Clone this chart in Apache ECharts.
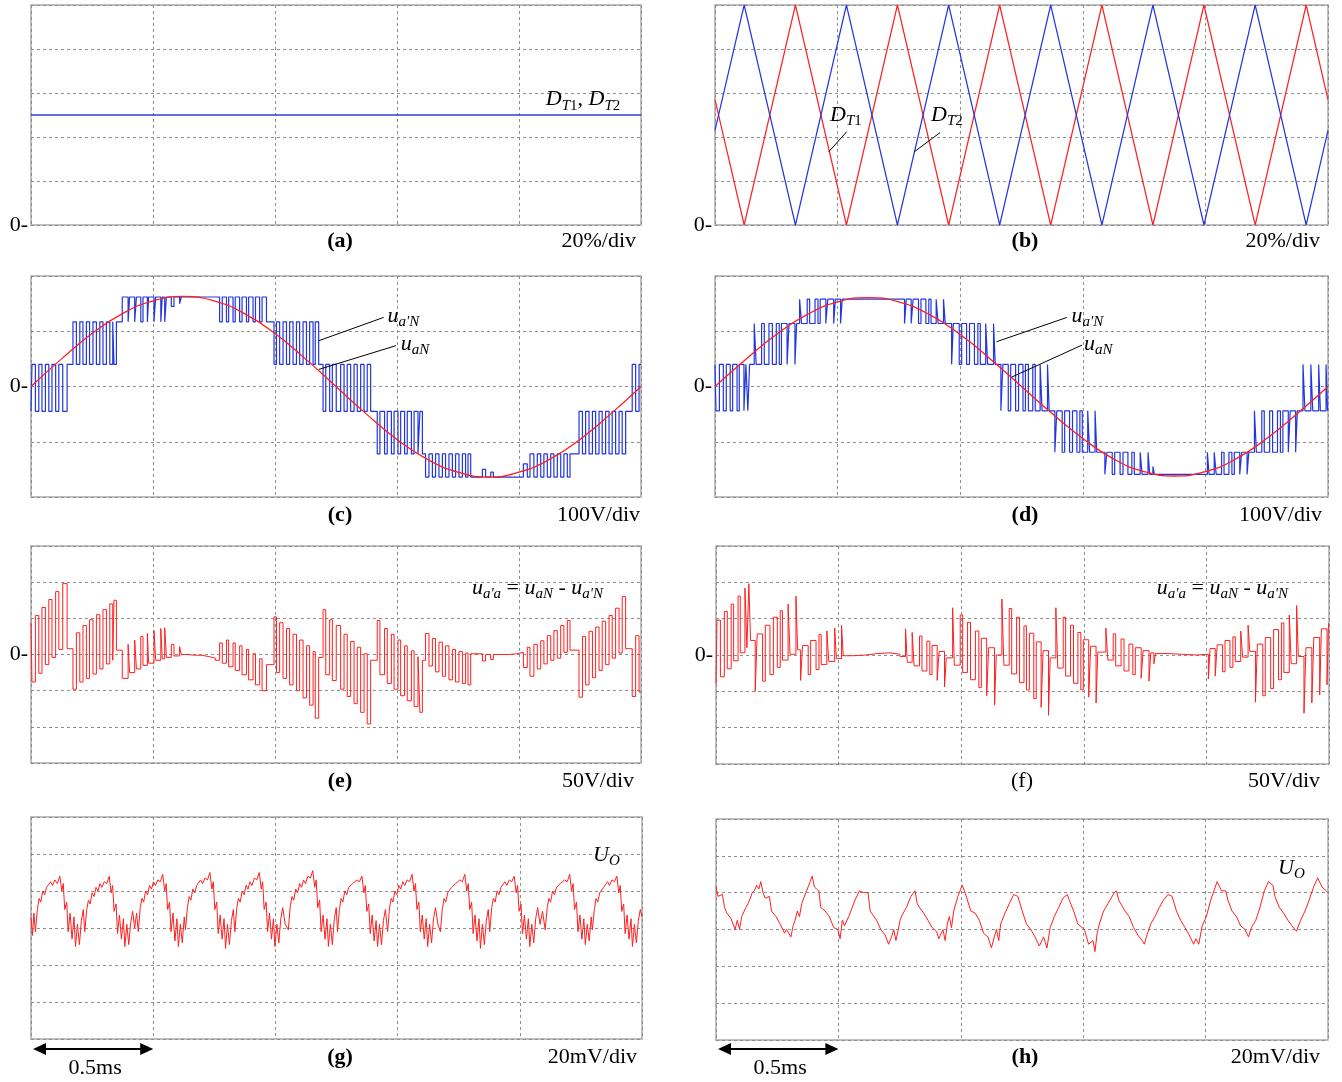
<!DOCTYPE html>
<html><head><meta charset="utf-8">
<script src="https://cdn.jsdelivr.net/npm/echarts@6/dist/echarts.min.js"></script>
<style>html,body{margin:0;padding:0;background:#fff}#c{width:1342px;height:1082px}</style>
</head><body><div id="c"></div>
<script>
// ---------- DATA (time in microseconds, 0.5 ms / div) ----------
// (a) duty ratios D_T1 = D_T2 (%)
const aTime = [0, 2500];
const aDuty = [50, 50];
// (b) triangular duty ratios (%)
const bTime = [0,119,328,536,744,953,1161,1369,1578,1786,1994,2203,2411,2500];
const bDT2  = [43,100,0,100,0,100,0,100,0,100,0,100,0,43];
const bDT1  = [57,0,100,0,100,0,100,0,100,0,100,0,100,57];
// (c) u_a'N (V) transitions [t, level]
const cUaPN = [
[0,-45],[4,40],[18,-45],[32,40],[45,-45],[59,40],[73,-45],[86,40],[101,-45],[114,40],[130,-45],[148,40],
[172,117],[186,40],[200,117],[213,40],[227,117],[240,40],[254,117],[268,40],[282,117],[295,40],[309,117],[323,40],[335,117],[340,40],[350,117],
[374,162],[398,117],[404,162],[425,117],[432,162],[450,117],[459,162],[477,117],[482,162],[504,117],[511,162],[532,117],[538,162],[548,117],[555,162],
[575,145],[586,162],[609,150],[616,162],
[773,117],[784,162],[801,117],[810,162],[828,117],[837,162],[855,117],[865,162],[883,117],[892,162],[910,117],[920,162],[937,117],[947,162],[965,117],
[996,40],[1006,117],[1019,40],[1033,117],[1047,40],[1060,117],[1074,40],[1088,117],[1101,40],[1115,117],[1129,40],[1142,117],[1156,40],[1165,117],[1179,40],
[1197,-45],[1208,40],[1224,-45],[1235,40],[1251,-45],[1269,40],[1283,-45],[1296,40],[1310,-45],[1324,40],[1337,-45],[1351,40],[1365,-45],[1378,40],[1392,-45],
[1419,-122],[1430,-45],[1449,-122],[1460,-45],[1477,-122],[1488,-45],[1504,-122],[1515,-45],[1531,-122],[1542,-45],[1559,-122],[1570,-45],[1586,-122],[1594,-45],[1604,-122],
[1617,-164],[1631,-122],[1645,-164],[1658,-122],[1672,-164],[1686,-122],[1699,-164],[1713,-122],[1727,-164],[1740,-122],[1754,-164],[1768,-122],[1781,-164],[1791,-122],[1802,-164],
[1850,-150],[1863,-164],[1884,-155],[1895,-164],
[2018,-140],[2034,-164],[2045,-122],[2061,-164],[2075,-122],[2089,-164],[2102,-122],[2116,-164],[2130,-122],[2143,-164],[2157,-122],[2171,-164],[2184,-122],[2198,-164],[2209,-122],
[2246,-45],[2260,-122],[2273,-45],[2287,-122],[2301,-45],[2314,-122],[2328,-45],[2341,-122],[2355,-45],[2369,-122],[2382,-45],[2396,-122],[2410,-45],[2423,-122],[2437,-45],
[2464,40],[2478,-45],[2492,40],[2500,40]
];
const sineTime = [0,125,250,375,500,625,750,875,1000,1125,1250,1375,1500,1625,1750,1875,2000,2125,2250,2375,2500];
const cUaN = [0,50,96,132,155,163,155,132,96,50,0,-50,-96,-132,-155,-164,-155,-132,-96,-50,0];
// (d) u_a'N (V) transitions
const dUaPN = [
[0,40],[4,-44],[18,40],[34,-44],[46,40],[62,-44],[72,40],[90,-44],[99,40],[118,-44],[126,40],[134,-44],[141,40],
[160,114],[168,40],[190,114],[201,40],[220,114],[234,40],[250,114],[262,40],[271,114],[294,40],[302,114],[326,40],[333,114],
[345,158],[353,114],[376,158],[386,114],[408,158],[420,114],[429,158],[452,114],[460,158],[484,114],[491,158],[512,114],[519,158],
[773,114],[780,158],[800,114],[808,158],[830,114],[840,158],[860,114],[872,158],[881,114],[902,158],[910,114],[932,158],[939,114],
[965,40],[972,114],[996,40],[1006,114],[1026,40],[1038,114],[1058,40],[1072,114],[1082,40],[1104,114],[1112,40],[1136,114],[1143,40],
[1166,-44],[1174,40],[1196,-44],[1206,40],[1226,-44],[1238,40],[1256,-44],[1266,40],[1278,-44],[1296,40],[1306,-44],[1326,40],[1334,-44],[1356,40],[1363,-44],
[1386,-119],[1394,-44],[1416,-119],[1426,-44],[1446,-119],[1458,-44],[1476,-119],[1488,-44],[1498,-119],[1520,-44],[1528,-119],[1550,-44],[1557,-119],
[1590,-159],[1598,-119],[1620,-159],[1630,-119],[1652,-159],[1664,-119],[1684,-159],[1700,-119],[1710,-159],[1734,-119],[1742,-159],[1766,-119],[1773,-159],[1786,-145],[1792,-159],
[2008,-119],[2015,-159],[2036,-119],[2044,-159],[2066,-119],[2076,-159],[2096,-119],[2108,-159],[2118,-119],[2140,-159],[2148,-119],[2170,-159],[2177,-119],
[2200,-44],[2208,-119],[2230,-44],[2240,-119],[2262,-44],[2274,-119],[2294,-44],[2306,-119],[2316,-44],[2338,-119],[2346,-44],[2368,-119],[2375,-44],
[2398,40],[2406,-44],[2430,40],[2438,-44],[2462,40],[2469,-44],[2492,40],[2498,-44],[2500,-44]
];
const dUaN = [0,49,94,130,153,161,153,130,94,49,0,-49,-94,-131,-154,-162,-154,-131,-94,-49,0];
// (e) u_a'a (V)
const eUaPa = [
[0,45],[4,-38],[18,54],[32,-26],[45,65],[59,-14],[73,76],[86,-4],[101,87],[114,7],[130,98],[148,8],
[172,-48],[186,30],[200,-38],[213,40],[227,-33],[240,48],[254,-27],[268,55],[282,-20],[295,62],[309,-13],[323,70],[335,-8],[340,75],[350,6],
[374,-33],[398,14],[404,-25],[425,20],[432,-20],[450,25],[459,-15],[477,29],[482,-12],[504,33],[511,-8],[532,36],[538,-6],[548,37],[555,-4],
[575,14],[586,-2],[609,11],[616,0],[640,-1],[670,-1],[700,-3],[730,-5],[755,-8],
[773,16],[784,-12],[801,20],[810,-17],[828,16],[837,-22],[855,12],[865,-28],[883,7],[892,-35],[910,1],[920,-42],[937,-6],[947,-50],[965,-14],
[996,52],[1006,-25],[1019,44],[1033,-33],[1047,36],[1060,-42],[1074,28],[1088,-50],[1101,20],[1115,-60],[1129,12],[1142,-70],[1156,4],[1165,-88],[1179,-4],
[1197,62],[1208,-28],[1224,48],[1235,-36],[1251,40],[1269,-48],[1283,28],[1296,-58],[1310,18],[1324,-68],[1337,10],[1351,-80],[1365,1],[1378,-96],[1392,-8],
[1419,47],[1430,-28],[1449,36],[1460,-40],[1477,28],[1488,-48],[1504,20],[1515,-57],[1531,12],[1542,-64],[1559,5],[1570,-72],[1586,-3],[1594,-80],[1604,-8],
[1617,29],[1631,-16],[1645,22],[1658,-24],[1672,17],[1686,-30],[1699,12],[1713,-35],[1727,7],[1740,-38],[1754,4],[1768,-40],[1781,2],[1791,-42],[1802,1],
[1850,-9],[1863,0],[1884,-7],[1895,0],[1930,0],[1960,1],[1990,3],
[2018,-18],[2034,10],[2045,-30],[2061,14],[2075,-20],[2089,19],[2102,-13],[2116,26],[2130,-8],[2143,33],[2157,-5],[2171,40],[2184,3],[2198,47],[2209,6],
[2246,-59],[2260,25],[2273,-42],[2287,32],[2301,-32],[2314,38],[2328,-22],[2341,46],[2355,-14],[2369,54],[2382,-5],[2396,64],[2410,2],[2423,80],[2437,8],
[2464,-58],[2478,26],[2492,-52],[2500,-52]
];
// (f) u_a'a (V)
const fUaPa = [
[0,-39],[4,48],[18,-30],[34,60],[46,-19],[62,70],[72,-8],[90,81],[99,3],[118,92],[126,10],[134,98],[141,20],
[160,-50],[168,29],[190,-36],[201,41],[220,-27],[234,52],[250,-17],[262,61],[271,-7],[294,70],[302,1],[326,81],[333,7],
[345,-35],[353,13],[376,-27],[386,20],[408,-20],[420,28],[429,-13],[452,33],[460,-9],[484,37],[491,-5],[512,41],[519,-1],
[560,0],[610,2],[660,3],[710,1],[750,-2],
[773,36],[780,-10],[800,31],[808,-15],[830,26],[840,-22],[860,19],[872,-27],[881,13],[902,-35],[910,5],[932,-44],[939,-4],
[965,65],[972,-14],[996,55],[1006,-24],[1026,45],[1038,-34],[1058,33],[1072,-45],[1082,23],[1104,-56],[1112,10],[1136,-69],[1143,0],
[1166,77],[1174,-14],[1196,64],[1206,-26],[1226,52],[1238,-38],[1256,40],[1266,-48],[1278,30],[1296,-60],[1306,18],[1326,-72],[1334,6],[1356,-83],[1363,-4],
[1386,65],[1394,-18],[1416,52],[1426,-29],[1446,41],[1458,-39],[1476,31],[1488,-48],[1498,21],[1520,-58],[1528,12],[1550,-66],[1557,4],
[1590,37],[1598,-7],[1620,29],[1630,-15],[1652,22],[1664,-22],[1684,15],[1700,-27],[1710,10],[1734,-32],[1742,6],[1766,-36],[1773,3],[1786,-12],[1792,2],
[1840,1],[1900,0],[1960,1],
[2008,-33],[2015,9],[2036,-29],[2044,14],[2066,-23],[2076,20],[2096,-17],[2108,25],[2118,-9],[2140,33],[2148,-3],[2170,41],[2177,5],
[2200,-65],[2208,15],[2230,-56],[2240,24],[2262,-46],[2274,35],[2294,-34],[2306,44],[2316,-24],[2338,55],[2346,-12],[2368,68],[2375,-2],
[2398,-80],[2406,10],[2430,-66],[2438,24],[2462,-55],[2469,36],[2492,-41],[2498,43],[2500,44]
];
// (g) U_O (mV)
const gUo = [
[0,6],[6,-4],[12,8],[18,-2],[26,10],[33,16],[40,14],[48,20],[56,18],[64,22],[72,21],[80,25],[88,23],[98,26],[108,24],[118,28],[126,20],[132,24],[138,10],[146,14],[152,-2],[160,8],[168,-6],[176,6],[182,-10],[190,2],[198,-9],[206,4],[214,10],
[220,-2],[228,10],[235,15],[242,13],[250,19],[258,17],[266,22],[274,20],[282,24],[290,22],[300,25],[310,24],[320,28],[328,19],[334,23],[340,9],[348,13],[354,-3],[362,7],[370,-6],[378,5],[384,-10],[392,2],[400,-9],[408,3],[416,9],[424,0],[432,8],
[439,-2],[447,11],[454,16],[461,14],[469,20],[477,18],[485,23],[493,21],[501,25],[509,23],[519,26],[529,25],[539,29],[547,20],[553,24],[559,10],[567,14],[573,-2],[581,8],[589,-7],[597,5],[603,-10],[611,2],[619,-8],[627,6],
[632,-1],[640,11],[647,17],[654,15],[662,21],[670,19],[678,23],[686,22],[694,26],[702,24],[712,27],[722,26],[732,30],[740,21],[746,25],[752,10],[760,14],[766,-3],[774,7],[782,-6],[790,5],[796,-11],[804,2],[812,-9],[820,4],[828,10],
[834,-2],[842,11],[849,16],[856,14],[864,20],[872,18],[880,23],[888,21],[896,25],[904,23],[914,27],[924,26],[934,30],[942,21],[948,25],[954,10],[962,14],[968,-2],[976,8],[984,-6],[992,5],[998,-10],[1006,2],[1014,-8],[1022,5],[1030,11],[1040,2],
[1053,-1],[1061,12],[1068,17],[1075,15],[1083,21],[1091,19],[1099,24],[1107,22],[1115,26],[1123,24],[1133,28],[1143,27],[1153,31],[1161,22],[1167,26],[1173,11],[1181,15],[1187,-2],[1195,7],[1203,-6],[1211,5],[1217,-10],[1225,2],[1233,-9],[1241,5],[1249,11],
[1254,-2],[1262,10],[1269,16],[1276,14],[1284,20],[1292,18],[1300,22],[1308,21],[1316,24],[1324,23],[1334,26],[1344,25],[1354,28],[1362,19],[1368,23],[1374,9],[1382,13],[1388,-3],[1396,7],[1404,-7],[1412,4],[1418,-10],[1426,2],[1434,-9],[1442,4],[1450,10],
[1459,-2],[1467,11],[1474,16],[1481,14],[1489,20],[1497,18],[1505,23],[1513,21],[1521,25],[1529,23],[1539,26],[1549,25],[1559,29],[1567,20],[1573,24],[1579,10],[1587,14],[1593,-2],[1601,7],[1609,-6],[1617,5],[1623,-10],[1631,2],[1639,-8],[1647,5],[1655,11],[1665,2],
[1675,-2],[1683,10],[1690,16],[1697,14],[1705,19],[1713,18],[1721,22],[1729,21],[1737,24],[1745,23],[1755,26],[1765,25],[1775,29],[1783,20],[1789,24],[1795,10],[1803,14],[1809,-3],[1817,7],[1825,-7],[1833,5],[1839,-11],[1847,2],[1855,-9],[1863,4],[1871,10],
[1877,-2],[1885,11],[1892,16],[1899,14],[1907,20],[1915,18],[1923,22],[1931,21],[1939,25],[1947,23],[1957,26],[1967,25],[1977,28],[1985,19],[1991,23],[1997,9],[2005,13],[2011,-3],[2019,7],[2027,-6],[2035,5],[2041,-10],[2049,2],[2057,-8],[2065,5],[2073,11],[2083,2],[2093,9],
[2104,-1],[2112,11],[2119,16],[2126,14],[2134,20],[2142,18],[2150,22],[2158,21],[2166,24],[2174,23],[2184,26],[2194,25],[2204,29],[2212,20],[2218,24],[2224,10],[2232,14],[2238,-2],[2246,7],[2254,-6],[2262,5],[2268,-9],[2276,2],[2284,-7],[2292,6],
[2297,-1],[2305,10],[2312,16],[2319,14],[2327,19],[2335,18],[2343,22],[2351,21],[2359,25],[2367,23],[2377,26],[2387,25],[2397,28],[2405,19],[2411,23],[2417,9],[2425,13],[2431,-3],[2439,7],[2447,-6],[2455,5],[2461,-10],[2469,2],[2477,-8],[2485,4],[2493,10],[2500,6]
];
// (h) U_O (mV)
const hUo = [
[0,23],[8,18],[26,19],[35,12],[44,9],[61,6],[78,0],[87,5],[96,0],[105,7],[122,12],[131,14],[140,17],[148,20],[157,21],[166,24],[175,22],[183,26],[192,20],[201,17],[218,18],[227,10],[245,7],[262,3],[280,-2],[288,0],[306,-4],[315,2],[323,5],[332,10],[341,7],[350,14],[367,20],[385,26],[393,29],[402,23],[411,22],[420,21],[428,12],[446,10],[463,7],[481,1],[498,0],[507,-5],[516,5],[525,2],[533,3],[542,7],[551,10],[568,16],[586,21],[603,20],[621,20],[630,10],[638,9],[656,5],[673,0],[691,-3],[705,-8],[717,-4],[726,0],[735,-6],[743,-1],[752,5],[761,8],[778,12],[796,18],[813,21],[822,14],[831,12],[848,9],[866,5],[883,1],[901,-1],[910,-5],[927,0],[936,-6],[945,3],[953,7],[962,1],[971,10],[988,18],[1006,24],[1015,21],[1023,20],[1041,10],[1058,9],[1076,5],[1093,-2],[1111,-4],[1125,-10],[1137,-4],[1146,0],[1155,-6],[1163,3],[1181,9],[1198,14],[1216,19],[1233,18],[1251,10],[1268,3],[1286,0],[1303,-4],[1321,-9],[1338,-4],[1352,-10],[1365,1],[1382,7],[1400,12],[1417,17],[1435,19],[1443,16],[1461,10],[1478,3],[1505,0],[1522,-8],[1540,-6],[1548,-12],[1557,-2],[1566,3],[1583,10],[1601,14],[1627,20],[1636,21],[1645,16],[1653,17],[1671,10],[1688,7],[1706,1],[1723,-3],[1741,-6],[1750,-8],[1758,-4],[1776,3],[1793,7],[1811,12],[1828,16],[1846,19],[1863,18],[1881,10],[1898,5],[1916,1],[1933,-3],[1951,-8],[1960,-5],[1972,-8],[1986,2],[2003,7],[2021,16],[2047,26],[2065,21],[2082,21],[2091,16],[2108,10],[2126,7],[2143,2],[2161,0],[2175,-4],[2187,1],[2205,5],[2222,12],[2240,21],[2257,26],[2275,24],[2283,18],[2301,12],[2318,9],[2336,5],[2353,2],[2371,-1],[2388,5],[2406,10],[2423,16],[2441,23],[2458,28],[2476,23],[2493,21],[2500,20]
];
// text
const panelLetters = ['(a)','(b)','(c)','(d)','(e)','(f)','(g)','(h)'];
const panelScales = ['20%/div','20%/div','100V/div','100V/div','50V/div','50V/div','20mV/div','20mV/div'];
const timeBarLabel = '0.5ms';

// ---------- LAYOUT ----------
const SERIF = '"Liberation Serif","Times New Roman",serif';
const grids = [
  {left:31, top:5, width:610, height:220},
  {left:715, top:5, width:613, height:220},
  {left:31, top:276, width:610, height:221},
  {left:715, top:276, width:613, height:221},
  {left:31, top:546, width:610, height:217},
  {left:716, top:546, width:613, height:218},
  {left:31, top:817, width:611, height:222},
  {left:716, top:819, width:612, height:221}
];
const yRanges = [[0,100,20],[0,100,20],[-200,200,100],[-200,200,100],[-150,150,50],[-150,150,50],[-60,60,20],[-60,60,20]];
const showZero = [true,true,true,true,true,true,false,false];
const BLUE = '#2236e0', RED = '#ff1f1f';

const dash = {show:true, lineStyle:{color:'#8e8e8e', width:1, type:[3,3]}};
const option = {
  animation:false,
  backgroundColor:'#fff',
  grid: grids.map(g => Object.assign({show:true, borderColor:'#a9a9a9', borderWidth:1.5, backgroundColor:'transparent', containLabel:false}, g)),
  xAxis: grids.map((g,i) => ({gridIndex:i, type:'value', min:0, max:2500, interval:500,
    axisLine:{show:false}, axisTick:{show:false}, axisLabel:{show:false}, splitLine:dash})),
  yAxis: grids.map((g,i) => ({gridIndex:i, type:'value', min:yRanges[i][0], max:yRanges[i][1], interval:yRanges[i][2],
    axisLine:{show:false}, axisTick:{show:false},
    axisLabel:{show:showZero[i], formatter: v => (v === 0 ? '0-' : ''), fontFamily:SERIF, fontSize:22, color:'#000', margin:3},
    splitLine:dash})),
  series: []
};
function ser(gi, data, color, width, extra){
  return Object.assign({type:'line', xAxisIndex:gi, yAxisIndex:gi, data:data, symbol:'none', showSymbol:false,
    silent:true, animation:false, lineStyle:{color:color, width:width}, itemStyle:{color:color}}, extra||{});
}
const zip = (xs, ys) => xs.map((x,i) => [x, ys[i]]);
option.series.push(ser(0, zip(aTime, aDuty), '#2a3fcf', 1.3));
option.series.push(ser(1, zip(bTime, bDT1), RED, 1.2));
option.series.push(ser(1, zip(bTime, bDT2), BLUE, 1.2));
option.series.push(ser(2, cUaPN, BLUE, 1.2, {step:'end'}));
option.series.push(ser(2, zip(sineTime, cUaN), RED, 1.3, {smooth:0.5}));
option.series.push(ser(3, dUaPN, BLUE, 1.2, {step:'end'}));
option.series.push(ser(3, zip(sineTime, dUaN), RED, 1.3, {smooth:0.5}));
option.series.push(ser(4, eUaPa, RED, 1, {step:'end'}));
option.series.push(ser(5, fUaPa, RED, 1, {step:'end'}));
option.series.push(ser(6, gUo, RED, 1));
option.series.push(ser(7, hUo, RED, 1));
// leader lines (annotation pointers, in data units)
const leaders = [
  [1, [[537,42.4],[464,33.3]]], [1, [[918,42],[813,33.3]]],
  [2, [[1445,125],[1180,83]]], [2, [[1496,74],[1180,31]]],
  [3, [[1435,125],[1148,81]]], [3, [[1497,75],[1210,17]]]
];
leaders.forEach(l => option.series.push(ser(l[0], l[1], '#000', 1)));

const chart = echarts.init(document.getElementById('c'), null, {renderer:'canvas'});
chart.setOption(option);

// ---------- ANNOTATIONS ----------
const ctx = document.createElement('canvas').getContext('2d');
function mw(t, f){ ctx.font = f; return ctx.measureText(t).width; }
const I22 = 'italic 22px ' + SERIF, R22 = '22px ' + SERIF, I15 = 'italic 15px ' + SERIF, R15 = '15px ' + SERIF;
const G = [];
function txt(x, y, s, font, align){
  G.push({type:'text', x:x, y:y, silent:true, style:{text:s, font:font, fill:'#000',
    textAlign:align||'left', align:align||'left', textVerticalAlign:'middle', verticalAlign:'middle'}});
}
function math(x, y, parts){
  let cx = x;
  parts.forEach(p => { txt(cx, y + (p[2]||0), p[0], p[1]); cx += mw(p[0], p[1]); });
}
function px(gi, t, v){ return chart.convertToPixel({gridIndex:gi}, [t, v]); }

const labelCX = [340,1025,340,1025,340,1022,340,1025];
const scaleRX = [636,1320,640,1322,634,1320,637,1320];
const rowY = [241,241,515,515,781,781,1057,1057];
for (let i = 0; i < 8; i++){
  txt(labelCX[i], rowY[i], panelLetters[i], (i === 5 ? '' : 'bold ') + '22px ' + SERIF, 'center');
  txt(scaleRX[i], rowY[i], panelScales[i], R22, 'right');
}
let p;
p = px(0, 2110, 57); math(p[0], p[1], [['D',I22],['T',I15,6],['1',R15,6],[', ',R22],['D',I22],['T',I15,6],['2',R15,6]]);
p = px(1, 469, 50); math(p[0], p[1], [['D',I22],['T',I15,6],['1',R15,6]]);
p = px(1, 881, 50); math(p[0], p[1], [['D',I22],['T',I15,6],['2',R15,6]]);
p = px(2, 1461, 128); math(p[0], p[1], [['u',I22],["a'N",I15,6]]);
p = px(2, 1515, 76); math(p[0], p[1], [['u',I22],['aN',I15,6]]);
p = px(3, 1454, 128); math(p[0], p[1], [['u',I22],["a'N",I15,6]]);
p = px(3, 1505, 77); math(p[0], p[1], [['u',I22],['aN',I15,6]]);
const eqParts = [['u',I22],["a'a",I15,6],[' = ',R22],['u',I22],['aN',I15,6],[' - ',R22],['u',I22],["a'N",I15,6]];
p = px(4, 1807, 92); math(p[0], p[1], eqParts);
p = px(5, 1798, 92); math(p[0], p[1], eqParts);
p = px(6, 2300, 39.5); math(p[0], p[1], [['U',I22],['O',I15,6]]);
p = px(7, 2296, 33.4); math(p[0], p[1], [['U',I22],['O',I15,6]]);

// 0.5 ms time bars
[6,7].forEach(gi => {
  const a = px(gi, 0, 0)[0] + 2, b = px(gi, 500, 0)[0];
  const y = 1049;
  G.push({type:'line', silent:true, shape:{x1:a+8, y1:y, x2:b-8, y2:y}, style:{stroke:'#000', lineWidth:2}});
  G.push({type:'polygon', silent:true, shape:{points:[[a,y],[a+13,y-6],[a+13,y+6]]}, style:{fill:'#000'}});
  G.push({type:'polygon', silent:true, shape:{points:[[b,y],[b-13,y-6],[b-13,y+6]]}, style:{fill:'#000'}});
  txt((a+b)/2 + 2, 1068, timeBarLabel, R22, 'center');
});
chart.setOption({graphic: G});
</script></body></html>
